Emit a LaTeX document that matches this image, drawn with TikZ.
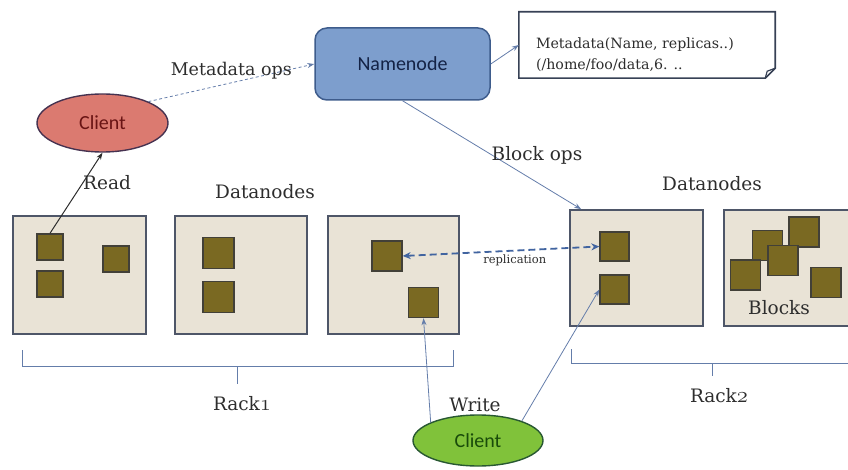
\RequirePackage{fix-cm}
\documentclass[tikz,border=0pt]{standalone}
\usepackage{fontspec}
\setmainfont{DejaVu Serif}
\newfontfamily\calib{Carlito}
\usetikzlibrary{arrows.meta, shapes.geometric, positioning}

\definecolor{boxfill}{RGB}{233,227,214}
\definecolor{boxline}{RGB}{78,86,104}
\definecolor{blkfill}{RGB}{122,105,34}
\definecolor{blkline}{RGB}{66,64,56}
\definecolor{nnfill}{RGB}{125,158,205}
\definecolor{nnline}{RGB}{62,92,140}
\definecolor{nntext}{RGB}{20,35,70}
\definecolor{arrblue}{RGB}{100,125,170}
\definecolor{repblue}{RGB}{65,100,160}
\definecolor{redfill}{RGB}{219,122,112}
\definecolor{redline}{RGB}{70,50,80}
\definecolor{redtext}{RGB}{105,20,20}
\definecolor{grnfill}{RGB}{128,194,58}
\definecolor{grnline}{RGB}{40,88,50}
\definecolor{grntext}{RGB}{25,75,10}
\definecolor{noteline}{RGB}{55,65,85}
\definecolor{txt}{RGB}{45,45,45}

\newcommand{\racknum}[1]{{\fontsize{22.5}{24}\selectfont$\mathnormal{#1}$}}

\begin{document}
\begin{tikzpicture}[x=1pt, y=-1pt,
	lbl/.style={text=txt, font=\fontsize{18.5}{22}\selectfont, inner sep=0pt},
	dnode/.style={draw=boxline, line width=1.6pt, fill=boxfill, inner sep=0pt},
	blk/.style={draw=blkline, line width=1.4pt, fill=blkfill, minimum size=30pt, inner sep=0pt},
	client/.style={ellipse, line width=1.4pt, inner sep=0pt, font=\calib\fontsize{20}{24}\selectfont},
	link/.style={draw=arrblue, line width=0.8pt, -{Stealth[length=7pt,width=5pt]}},
	rack/.style={draw=arrblue, line width=0.8pt}]
	\useasboundingbox (0,0) rectangle (848,470);
	\clip (0,0) rectangle (848,470);
	% namenode and its metadata note
	\node[draw=nnline, line width=1.5pt, fill=nnfill, rounded corners=12pt, minimum width=175pt, minimum height=72pt, text=nntext, font=\calib\fontsize{20}{24}\selectfont] (namenode) at (402.5,64) {Namenode};
	\node[minimum width=256pt, minimum height=66pt] (meta) at (647,45) {};
	\draw[draw=noteline, line width=1.6pt, fill=white] (meta.north west) -- (meta.north east) -- ([yshift=10pt]meta.south east) -- ([xshift=-10pt]meta.south east) -- (meta.south west) -- cycle;
	\draw[draw=noteline, line width=1.2pt] ([xshift=-10pt]meta.south east) -- ([xshift=-8pt,yshift=7pt]meta.south east) -- ([yshift=10pt]meta.south east);
	\node[anchor=west, align=left, text=txt, inner sep=0pt, font=\fontsize{14.2}{21}\selectfont] (metatext) at ([xshift=17pt,yshift=-10pt]meta.west) {Metadata(Name, replicas..)\\(/home/foo/data,6. ..};
	% clients
	\node[client, draw=redline, fill=redfill, text=redtext, minimum width=131pt, minimum height=58pt] (rclient) at (102.5,123) {Client};
	\node[client, draw=grnline, fill=grnfill, text=grntext, minimum width=130pt, minimum height=51pt] (wclient) at (478,440.5) {Client};
	% rack1 datanodes
	\node[dnode, minimum width=133pt, minimum height=118pt] (dn1) at (79.5,275) {};
	\node[dnode, minimum width=132pt, minimum height=118pt] (dn2) at (241,275) {};
	\node[dnode, minimum width=131pt, minimum height=118pt] (dn3) at (393.5,275) {};
	\node[blk, minimum size=26pt] (b11) at (50,247) {};
	\node[blk, minimum size=26pt] (b12) at (50,284) {};
	\node[blk, minimum size=26pt] (b13) at (116,259) {};
	\node[blk, minimum size=31pt] (b21) at (218.5,253) {};
	\node[blk, minimum size=31pt] (b22) at (218.5,297) {};
	\node[blk] (b31) at (387,256) {};
	\node[blk] (b32) at (423.5,302.5) {};
	% rack2 datanodes
	\node[dnode, minimum width=133pt, minimum height=116pt] (dn4) at (636.5,268) {};
	\node[dnode, minimum width=132pt, minimum height=116pt] (dn5) at (790,268) {};
	\node[blk, minimum size=29pt] (b41) at (614.5,246.5) {};
	\node[blk, minimum size=29pt] (b42) at (614.5,289.5) {};
	\node[blk] (b51) at (767.5,245.5) {};
	\node[blk] (b52) at (804,232) {};
	\node[blk] (b53) at (745.5,275) {};
	\node[blk] (b54) at (783,260.5) {};
	\node[blk] (b55) at (826,282.5) {};
	% racks
	\draw[rack] (22,350) -- (22,366) -- (453,366) -- (453,350);
	\draw[rack] (237,366) -- (237,384);
	\draw[rack] (571,349) -- (571,363) -- (860,363);
	\draw[rack] (712,363) -- (712,376);
	% connectors
	\draw[link, draw=txt, line width=1pt] (b11.north) -- (rclient.south);
	\draw[link, dashed, dash pattern=on 3pt off 2.5pt] (rclient.25) -- (namenode.west) node[midway, above, lbl, font=\fontsize{17.5}{22}\selectfont, yshift=3pt] (metaops) {Metadata ops};
	\draw[link] (namenode.east) -- (meta.west);
	\draw[link] (namenode.south) -- ([xshift=12pt]dn4.north west);
	\draw[draw=repblue, line width=1.8pt, dash pattern=on 7pt off 4pt, {Stealth[length=8pt,width=7pt]}-{Stealth[length=8pt,width=7pt]}] (b31.east) -- (b41.west) node[pos=0.57, below=3pt, text=txt, inner sep=0pt, font=\fontsize{11.5}{14}\selectfont] (replbl) {replication};
	\draw[link] (wclient.159) -- (b32.south);
	\draw[link] (wclient.24) -- (b42.west);
	% labels
	\node[lbl] (readlbl) at (107,183) {Read};
	\node[lbl] (dn1lbl) at (265,192) {Datanodes};
	\node[lbl] (dn2lbl) at (712,184) {Datanodes};
	\node[lbl] (blockops) at (537,155) {Block ops};
	\node[lbl] (blockslbl) at (779,308) {Blocks};
	\node[lbl] (rack1lbl) at (242,404) {Rack\racknum{1}};
	\node[lbl] (rack2lbl) at (719,396) {Rack\racknum{2}};
	\node[lbl] (writelbl) at (475,405) {Write};
\end{tikzpicture}
\end{document}
